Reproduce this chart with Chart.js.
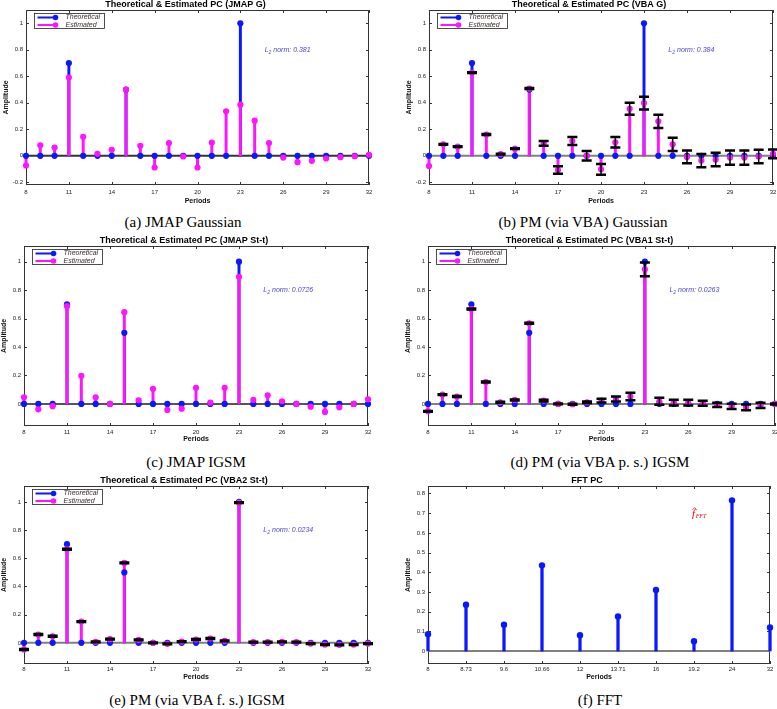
<!DOCTYPE html>
<html>
<head>
<meta charset="utf-8">
<script src="https://cdn.jsdelivr.net/npm/chart.js@4.4.0/dist/chart.umd.min.js"></script>
<style>
  body { margin: 0; background: #fff; width: 777px; height: 709px; position: relative; overflow: hidden; }
  canvas { position: absolute; }
  .cap { position: absolute; width: 380px; text-align: center; white-space: nowrap;
         font-family: "Liberation Serif", "Times New Roman", serif; font-size: 15px; line-height: 16px; color: #000; }
</style>
</head>
<body>
<div class="cap" style="left:-7px;top:214px">(a) JMAP Gaussian</div>
<div class="cap" style="left:393px;top:214px">(b) PM (via VBA) Gaussian</div>
<div class="cap" style="left:6px;top:454px">(c) JMAP IGSM</div>
<div class="cap" style="left:410px;top:454px">(d) PM (via VBA p. s.) IGSM</div>
<div class="cap" style="left:7px;top:692px">(e) PM (via VBA f. s.) IGSM</div>
<div class="cap" style="left:410px;top:692px">(f) FFT</div>
<script>
// periods 8..32
const periods = [8, 9, 10, 11, 12, 13, 14, 15, 16, 17, 18, 19, 20, 21, 22, 23, 24, 25, 26, 27, 28, 29, 30, 31, 32];
const theoretical = [0, 0, 0, 0.7, 0, 0, 0, 0.5, 0, 0, 0, 0, 0, 0, 0, 1, 0, 0, 0, 0, 0, 0, 0, 0, 0];

// (a) JMAP Gaussian
const estJmapG = [-0.073, 0.08, 0.063, 0.59, 0.144, 0.015, 0.045, 0.5, 0.076, -0.088, 0.096, -0.005, -0.088,
  0.1, 0.336, 0.386, 0.265, 0.096, -0.013, -0.048, -0.038, -0.02, -0.01, -0.003, 0.008];
// (b) VBA Gaussian, with error bar half widths
const estVbaG = [-0.077, 0.087, 0.069, 0.628, 0.161, 0.013, 0.054, 0.508, 0.094, -0.107, 0.112, 0, -0.102,
  0.102, 0.355, 0.398, 0.26, 0.087, -0.008, -0.036, -0.028, -0.013, -0.013, -0.005, 0.015];
const errVbaG = [null, 0.003, 0.003, 0.003, 0.003, 0.003, 0.003, 0.004, 0.017, 0.028, 0.03, 0.036, 0.04,
  0.04, 0.045, 0.048, 0.05, 0.05, 0.048, 0.05, 0.051, 0.054, 0.054, 0.051, 0.033];
// (c) JMAP St-t
const estJmapT = [0.047, -0.038, -0.016, 0.687, 0.198, 0.047, 0, 0.645, 0.026, 0.106, -0.042, -0.033, 0.113,
  0.009, 0.113, 0.894, 0.028, 0.061, 0.019, 0, -0.019, -0.056, -0.024, 0, 0.033];
// (d) VBA1 St-t
const estVba1 = [-0.052, 0.066, 0.052, 0.667, 0.154, 0.012, 0.028, 0.567, 0.024, 0, -0.002, 0.012, 0.024,
  0.035, 0.052, 0.946, 0.019, 0.009, 0.009, 0.005, -0.007, -0.017, -0.024, -0.01, 0];
const errVba1 = [0.003, 0.003, 0.003, 0.003, 0.003, 0.003, 0.003, 0.004, 0.006, 0.003, 0.003, 0.006, 0.013,
  0.017, 0.026, 0.048, 0.025, 0.02, 0.02, 0.018, 0.015, 0.018, 0.02, 0.018, 0.004];
// (e) VBA2 St-t
const estVba2 = [-0.047, 0.059, 0.047, 0.664, 0.151, 0.007, 0.026, 0.567, 0.021, 0, -0.007, 0.009, 0.024,
  0.031, 0.014, 0.995, 0.005, 0.005, 0.007, 0.005, -0.005, -0.012, -0.014, -0.012, -0.005];
const errVba2 = [0.003, 0.003, 0.003, 0.003, 0.003, 0.003, 0.003, 0.003, 0.003, 0.003, 0.003, 0.003, 0.003,
  0.003, 0.003, 0.003, 0.003, 0.003, 0.003, 0.003, 0.003, 0.003, 0.003, 0.003, 0.003];
// (f) FFT
const fftLabels = ['8', '8.73', '9.6', '10.66', '12', '13.71', '16', '19.2', '24', '32'];
const fftValues = [0.085, 0.235, 0.133, 0.435, 0.08, 0.175, 0.31, 0.05, 0.765, 0.12];

const BLUE = '#0a18ff';
const MAGENTA = '#ff14ff';
const SANS = '"Liberation Sans", Arial, sans-serif';

// box, inward ticks, baseline, error bars, legend, notes
const extras = {
  id: 'extras',
  beforeDatasetsDraw(chart, args, o) {
    const { ctx, chartArea: a, scales: { x, y } } = chart;
    ctx.save();
    ctx.strokeStyle = '#333';
    ctx.lineWidth = 1;
    ctx.strokeRect(a.left + 0.5, a.top + 0.5, a.right - a.left - 1, a.bottom - a.top - 1);
    ctx.beginPath();
    y.ticks.forEach(t => {
      const py = Math.round(y.getPixelForValue(t.value)) + 0.5;
      ctx.moveTo(a.left, py); ctx.lineTo(a.left + 3, py);
      ctx.moveTo(a.right, py); ctx.lineTo(a.right - 3, py);
    });
    x.ticks.forEach((t, i) => {
      const px = Math.round(x.getPixelForTick(i)) + 0.5;
      ctx.moveTo(px, a.bottom); ctx.lineTo(px, a.bottom - 3);
      ctx.moveTo(px, a.top); ctx.lineTo(px, a.top + 3);
    });
    ctx.stroke();
    const y0 = y.getPixelForValue(0);
    ctx.strokeStyle = o.baseColor || '#808080';
    ctx.lineWidth = 2;
    ctx.beginPath();
    ctx.moveTo(a.left, y0); ctx.lineTo(a.right, y0);
    ctx.stroke();
    ctx.restore();
  },
  afterDatasetsDraw(chart, args, o) {
    const { ctx, chartArea: a, scales: { x, y } } = chart;
    ctx.save();
    if (o.err) {
      ctx.strokeStyle = '#000';
      o.err.forEach((e, i) => {
        if (e == null) return;
        const px = x.getPixelForValue(periods[i]);
        const lo = y.getPixelForValue(o.est[i] - e);
        const hi = y.getPixelForValue(o.est[i] + e);
        ctx.lineWidth = 1.5;
        ctx.beginPath(); ctx.moveTo(px, lo); ctx.lineTo(px, hi); ctx.stroke();
        ctx.lineWidth = 2.5;
        ctx.beginPath();
        ctx.moveTo(px - 5, lo); ctx.lineTo(px + 5, lo);
        ctx.moveTo(px - 5, hi); ctx.lineTo(px + 5, hi);
        ctx.stroke();
      });
    }
    if (o.legend) {
      const lx = a.left + 8.5, ly = a.top + 3.5, lw = 70, lh = 15;
      ctx.fillStyle = '#fff';
      ctx.fillRect(lx, ly, lw, lh);
      ctx.strokeStyle = '#222';
      ctx.lineWidth = 0.8;
      ctx.strokeRect(lx, ly, lw, lh);
      [[BLUE, 'Theoretical'], [MAGENTA, 'Estimated']].forEach(([c, label], k) => {
        const yy = ly + 4 + k * 7.5;
        ctx.strokeStyle = c; ctx.lineWidth = 2;
        ctx.beginPath(); ctx.moveTo(lx + 3, yy); ctx.lineTo(lx + 22, yy); ctx.stroke();
        ctx.fillStyle = c;
        ctx.beginPath(); ctx.arc(lx + 21, yy, 2.8, 0, Math.PI * 2); ctx.fill();
        ctx.fillStyle = '#3a2a2a';
        ctx.font = 'italic 7px ' + SANS;
        ctx.textBaseline = 'middle';
        ctx.fillText(label, lx + 31, yy);
      });
    }
    if (o.norm) {
      let px = x.getPixelForValue(24.7);
      const py = y.getPixelForValue(0.8);
      ctx.fillStyle = '#4a3ed0';
      ctx.textBaseline = 'middle';
      ctx.font = 'italic 7px ' + SANS;
      ctx.fillText('L', px, py);
      px += ctx.measureText('L').width;
      ctx.font = 'italic 5px ' + SANS;
      ctx.fillText('2', px, py + 2.5);
      px += ctx.measureText('2').width;
      ctx.font = 'italic 7px ' + SANS;
      ctx.fillText(' norm: ' + o.norm, px, py);
    }
    if (o.fft) {
      let px = x.getPixelForValue(6.95);
      const py = y.getPixelForValue(0.695);
      ctx.fillStyle = '#e00000';
      ctx.strokeStyle = '#e00000';
      ctx.textBaseline = 'middle';
      ctx.font = 'italic 11px "Liberation Serif", serif';
      ctx.fillText('f', px, py);
      const fw = ctx.measureText('f').width;
      // hat above the f
      ctx.lineWidth = 0.8;
      ctx.beginPath();
      ctx.moveTo(px + 0.5, py - 4.5); ctx.lineTo(px + 2.5, py - 6.5); ctx.lineTo(px + 4.5, py - 4.5);
      ctx.stroke();
      px += fw + 0.5;
      ctx.font = 'italic 6px "Liberation Serif", serif';
      ctx.fillText('FFT', px, py + 2.5);
    }
    ctx.restore();
  }
};

function yTickLabel(v) {
  return String(Math.round(v * 100) / 100);
}

function makePanel(p) {
  const W = 24, TH = 10;
  const cv = document.createElement('canvas');
  cv.width = W + (p.r - p.l) + 8;
  cv.height = TH + (p.b - p.t) + p.xh;
  cv.style.left = (p.l - W) + 'px';
  cv.style.top = (p.t - TH) + 'px';
  document.body.appendChild(cv);

  let datasets, xScale;
  if (p.fft) {
    datasets = [
      { type: 'bar', data: fftValues, backgroundColor: BLUE, barThickness: 2.6, order: 2, clip: false },
      { type: 'line', data: fftValues, showLine: false, pointRadius: 3.2, pointBorderWidth: 0,
        pointBackgroundColor: BLUE, order: 1, clip: false }
    ];
    xScale = { type: 'category', labels: fftLabels, offset: false };
  } else {
    const pts = arr => periods.map((x, i) => ({ x: x, y: arr[i] }));
    datasets = [
      { type: 'bar', data: pts(theoretical), backgroundColor: BLUE, barThickness: 2.3, grouped: false, order: 4, clip: false },
      { type: 'bar', data: pts(p.est), backgroundColor: MAGENTA, barThickness: 2.3, grouped: false, order: 3, clip: false },
      { type: 'line', data: pts(theoretical), showLine: false, pointRadius: 3.1, pointBorderWidth: 0,
        pointBackgroundColor: BLUE, order: 2, clip: false },
      { type: 'line', data: pts(p.est), showLine: false, pointRadius: 3.1, pointBorderWidth: 0,
        pointBackgroundColor: MAGENTA, order: 1, clip: false }
    ];
    xScale = { type: 'linear', min: 8, max: 32, offset: false };
  }

  new Chart(cv.getContext('2d'), {
    type: 'bar',
    data: { labels: p.fft ? fftLabels : undefined, datasets: datasets },
    plugins: [extras],
    options: {
      responsive: false,
      animation: false,
      events: [],
      layout: { padding: { left: 0, right: 8, top: 0, bottom: 0 } },
      plugins: {
        legend: { display: false },
        tooltip: { enabled: false },
        title: {
          display: true, text: p.title, color: '#000',
          font: { size: 9, weight: 'bold', family: SANS, lineHeight: 1 },
          padding: { top: 0, bottom: 1 }
        },
        extras: { est: p.est, err: p.err, legend: !p.fft, norm: p.norm, fft: p.fft, baseColor: p.base }
      },
      scales: {
        x: Object.assign(xScale, {
          ticks: { stepSize: 3, autoSkip: false, maxRotation: 0, padding: p.tp, color: '#222',
                   font: { size: 6, family: SANS } },
          grid: { display: false, drawTicks: false },
          border: { display: false },
          title: { display: true, text: 'Periods', color: '#111',
                   font: { size: 7, weight: 'bold', family: SANS }, padding: { top: 0, bottom: p.pb } },
          afterFit: s => { s.height = p.xh; }
        }),
        y: {
          min: p.ymin, max: p.ymax,
          ticks: { stepSize: p.step, includeBounds: false, padding: 3, color: '#222',
                   font: { size: 6, family: SANS }, callback: yTickLabel },
          grid: { display: false, drawTicks: false },
          border: { display: false },
          title: { display: true, text: 'Amplitude', color: '#111',
                   font: { size: 7, weight: 'bold', family: SANS }, padding: { top: 0, bottom: 0 } },
          afterFit: s => { s.width = W; }
        }
      }
    }
  });
}

makePanel({ title: 'Theoretical & Estimated PC (JMAP G)', est: estJmapG, norm: '0.381', base: '#333',
  l: 26, r: 369, t: 10, b: 185, ymin: -0.22, ymax: 1.1, step: 0.2, xh: 22, tp: 4, pb: 1.8 });
makePanel({ title: 'Theoretical & Estimated PC (VBA G)', est: estVbaG, err: errVbaG, norm: '0.384', base: '#808080',
  l: 429, r: 773, t: 10, b: 185, ymin: -0.22, ymax: 1.1, step: 0.2, xh: 22, tp: 4, pb: 1.8 });
makePanel({ title: 'Theoretical & Estimated PC (JMAP St-t)', est: estJmapT, norm: '0.0726', base: '#555',
  l: 24, r: 368, t: 246, b: 426, ymin: -0.155, ymax: 1.11, step: 0.2, xh: 19, tp: 3, pb: 1.5 });
makePanel({ title: 'Theoretical & Estimated PC (VBA1 St-t)', est: estVba1, err: errVba1, norm: '0.0263', base: '#808080',
  l: 428, r: 775, t: 246, b: 426, ymin: -0.155, ymax: 1.11, step: 0.2, xh: 19, tp: 3, pb: 1.5 });
makePanel({ title: 'Theoretical & Estimated PC (VBA2 St-t)', est: estVba2, err: errVba2, norm: '0.0234', base: '#808080',
  l: 24, r: 368, t: 486, b: 664, ymin: -0.15, ymax: 1.113, step: 0.2, xh: 19, tp: 2, pb: 1.3 });
makePanel({ title: 'FFT PC', fft: true, base: '#808080',
  l: 428, r: 770, t: 486, b: 664, ymin: -0.066, ymax: 0.838, step: 0.1, xh: 19, tp: 2, pb: 1.3 });
</script>
</body>
</html>
